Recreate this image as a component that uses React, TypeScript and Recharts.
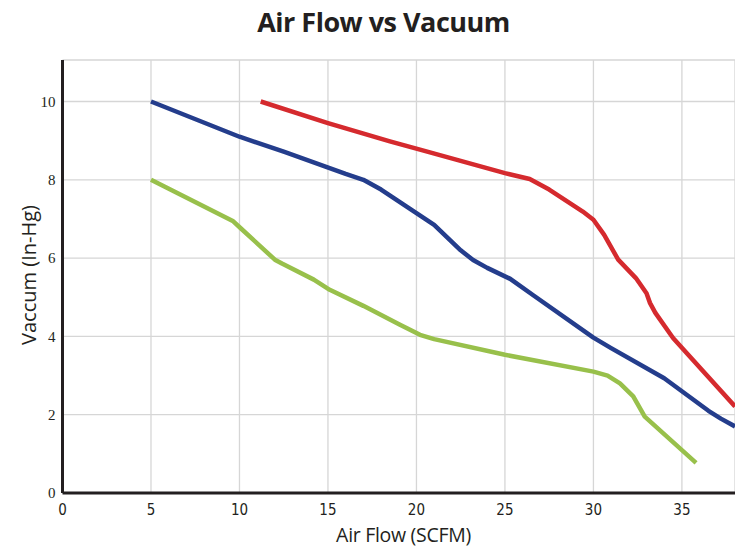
import { LineChart, Line, XAxis, YAxis, CartesianGrid } from "recharts";

// blue curve
const blueFlow = [5, 10, 12.5, 16, 17, 18, 20, 21, 22.5, 23.2, 24, 25.3, 26.6, 30, 31, 34, 36.5, 37.2, 38];
const blueVacuum = [10, 9.1, 8.72, 8.15, 8.0, 7.75, 7.15, 6.85, 6.2, 5.95, 5.75, 5.47, 5.05, 3.97, 3.7, 2.93, 2.1, 1.9, 1.7];

// red curve
const redFlow = [11.2, 15, 18.5, 20.2, 25, 26.4, 27.5, 29.4, 30, 30.6, 31.4, 32.4, 33, 33.2, 33.5, 34.5, 38];
const redVacuum = [10, 9.45, 8.98, 8.77, 8.17, 8.02, 7.75, 7.19, 6.98, 6.6, 5.96, 5.49, 5.1, 4.85, 4.6, 3.96, 2.21];

// green curve
const greenFlow = [5, 9.65, 10.1, 12, 12.4, 14.2, 15.1, 17, 19.07, 20.2, 21, 25, 30, 30.8, 31.5, 32.25, 32.9, 35.8];
const greenVacuum = [8, 6.94, 6.75, 5.96, 5.86, 5.45, 5.19, 4.78, 4.3, 4.04, 3.93, 3.53, 3.1, 3.0, 2.8, 2.47, 1.95, 0.77];

const xTicks = [0, 5, 10, 15, 20, 25, 30, 35];
const yTicks = [0, 2, 4, 6, 8, 10];

const toPoints = (xs: number[], ys: number[]) => xs.map((x, i) => ({ x, y: ys[i] }));

const blueData = toPoints(blueFlow, blueVacuum);
const redData = toPoints(redFlow, redVacuum);
const greenData = toPoints(greenFlow, greenVacuum);

const axisColor = "#231f20";
const sans = "'Open Sans', 'Noto Sans', sans-serif";

export default function App() {
  return (
    <div style={{ position: "absolute", left: 0, top: 0, width: 735, height: 547, background: "#fff" }}>
      <div
        style={{
          position: "absolute",
          left: 0,
          width: 767,
          top: 3,
          textAlign: "center",
          fontFamily: sans,
          fontWeight: 700,
          fontSize: 27,
          letterSpacing: -0.5,
          color: axisColor,
        }}
      >
        Air Flow vs Vacuum
      </div>
      <div
        style={{
          position: "absolute",
          left: 0,
          width: 807,
          top: 521,
          textAlign: "center",
          fontFamily: sans,
          fontSize: 19.5,
          lineHeight: "normal",
          letterSpacing: -0.3,
          color: axisColor,
        }}
      >
        Air Flow (SCFM)
      </div>
      <div
        style={{
          position: "absolute",
          left: 28,
          top: 275,
          transform: "translate(-50%, -50%) rotate(-90deg)",
          whiteSpace: "nowrap",
          fontFamily: sans,
          fontSize: 20,
          color: axisColor,
        }}
      >
        Vaccum (In-Hg)
      </div>
      <LineChart width={735} height={547} margin={{ top: 60, right: 0, bottom: 0, left: 0 }}>
        <CartesianGrid stroke="#d6d6d6" strokeWidth={1.3} />
        <XAxis
          type="number"
          dataKey="x"
          domain={[0, 38]}
          ticks={xTicks}
          allowDataOverflow
          height={54}
          axisLine={{ stroke: axisColor, strokeWidth: 3 }}
          tickLine={false}
          tickSize={6}
          tickMargin={5}
          tick={{ fill: axisColor, fontSize: 15, fontFamily: "'Liberation Sans Narrow', 'DejaVu Sans Condensed', sans-serif" }}
        />
        <YAxis
          type="number"
          dataKey="y"
          domain={[0, 11.06]}
          ticks={yTicks}
          allowDataOverflow
          width={62.5}
          axisLine={{ stroke: axisColor, strokeWidth: 3 }}
          tickLine={false}
          tickSize={6}
          tickMargin={1}
          tick={{ fill: axisColor, fontSize: 15, fontFamily: "'Liberation Serif', serif" }}
        />
        <Line
          data={blueData}
          dataKey="y"
          type="linear"
          stroke="#243d8c"
          strokeWidth={4.5}
          strokeLinejoin="round"
          dot={false}
          isAnimationActive={false}
        />
        <Line
          data={redData}
          dataKey="y"
          type="linear"
          stroke="#d52a2e"
          strokeWidth={4.5}
          strokeLinejoin="round"
          dot={false}
          isAnimationActive={false}
        />
        <Line
          data={greenData}
          dataKey="y"
          type="linear"
          stroke="#98c04b"
          strokeWidth={4.5}
          strokeLinejoin="round"
          dot={false}
          isAnimationActive={false}
        />
      </LineChart>
    </div>
  );
}
